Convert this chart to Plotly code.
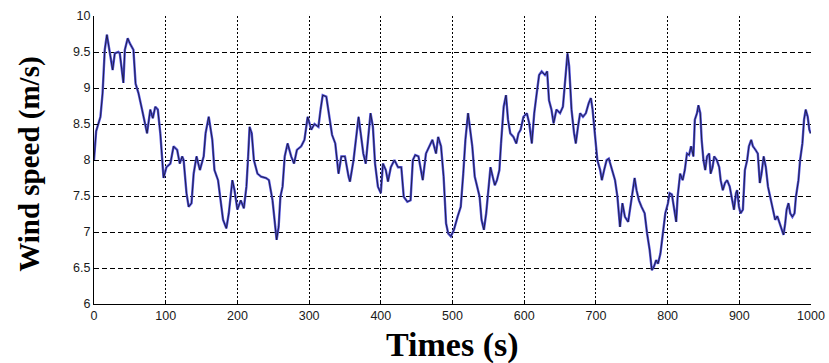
import plotly.graph_objects as go

# Wind speed record over a 1000 s window
time_s = [
    0, 3, 6, 9, 12, 13.5, 15, 18, 21, 23, 26, 29, 34, 36, 39, 41, 43, 47, 50, 55,
    58, 62, 67, 71.5, 74, 78.5, 82, 85.5, 89, 92.5, 95, 97, 101, 106.5, 111, 116,
    119.6, 123, 125, 129, 132, 136, 139, 143, 147.7, 153, 155.6, 160, 165, 168,
    173, 177, 180, 184.6, 188, 193, 196, 200, 204.7, 209, 212.6, 215, 217, 220,
    223, 228, 233, 240, 244, 249, 253, 254.7, 257.5, 260, 263, 266, 270, 275, 279,
    283, 289, 293.5, 298, 303, 307.5, 313, 316, 319, 324, 327,
    332, 336.5, 341, 345, 350, 355, 357, 362, 369, 372, 375.6, 379, 382.5, 385.7,
    389, 392, 396, 400, 403, 407, 410, 414, 419, 424, 428.6, 432, 437, 441.5,
    444.7, 448, 452.5, 455, 458.5, 463, 468, 472, 477, 480, 484, 487.6, 491, 494,
    497.7, 502, 507, 511.5, 515, 518, 521.7, 524, 527.6, 531, 534.5, 537.8, 540.5,
    543.8, 547, 549.8, 553, 556, 559, 562, 565.4, 567.7, 571.4, 574.6, 577.4,
    580.6, 585, 589, 592, 595, 599, 603.7, 607, 610.6, 614, 617.5, 620.8, 624.4,
    629, 632, 634.6, 638, 641, 645, 650, 654, 657.6, 660.4, 662.7, 666, 669.6,
    672, 675, 678,
    682, 686, 690, 693, 695.4, 699, 702, 706, 708.3, 711.5, 715, 718, 722, 726.7,
    730, 733.6, 737, 740.5, 745, 748, 752, 754, 756.7, 760, 763.6, 768, 771.4,
    775, 778, 781, 784, 786.6, 790, 793.5, 796.8, 800.5, 802.8, 806, 808.7, 812,
    814, 817.5, 821, 824, 827, 830, 832.7, 836, 838, 841, 843, 845.6, 847.5, 850,
    852.5, 855, 858, 860, 862.7, 865, 868.6, 872, 874, 877, 880, 883, 886.6, 890,
    892.6, 895.4, 897, 899.5, 901.8, 905, 907.8, 911, 913.4, 916.6, 919, 922.6,
    925.8, 928.6, 931, 934, 937, 940, 943, 947, 950, 953, 956, 959, 961.7, 964,
    966, 968.6, 971, 974, 977, 979, 982.5, 984.8, 988, 990.3, 992.6, 995.4,
    997.7, 999.5,
]

wind_speed = [
    8.0, 8.4, 8.5, 8.6, 8.93, 9.2, 9.53, 9.74, 9.57, 9.44, 9.25, 9.48, 9.5, 9.48,
    9.25, 9.07, 9.53, 9.69, 9.62, 9.53, 9.06, 8.93, 8.7, 8.46, 8.37, 8.7, 8.58,
    8.74, 8.7, 8.37, 7.95, 7.75, 7.9, 7.95, 8.19, 8.14, 7.95, 8.05, 8.0, 7.54,
    7.35, 7.4, 7.81, 8.05, 7.86, 8.05, 8.37, 8.6, 8.28, 7.86, 7.72, 7.44, 7.17,
    7.05, 7.26, 7.72, 7.58, 7.31, 7.44, 7.33, 7.63, 8.05, 8.46, 8.37, 8.0, 7.81,
    7.77, 7.75, 7.72, 7.44, 7.03, 6.89, 7.07, 7.49, 7.63, 8.05, 8.23, 8.05, 7.95,
    8.14, 8.19, 8.28, 8.6, 8.42, 8.5, 8.46, 8.7, 8.9, 8.88, 8.7,
    8.35, 8.23, 7.81, 8.05, 8.05, 7.77, 7.7, 8.0, 8.6, 8.37, 8.09, 7.95, 8.37,
    8.65, 8.46, 7.95, 7.63, 7.54, 7.95, 7.86, 7.7, 7.9, 8.0, 7.9, 7.9, 7.49, 7.42,
    7.44, 8.0, 8.07, 8.05, 7.9, 7.72, 8.09, 8.19, 8.28, 8.09, 8.32, 8.19, 7.77,
    7.12, 6.98, 6.94, 7.03, 7.21, 7.35, 7.81, 8.28, 8.65, 8.46, 8.19, 7.77, 7.63,
    7.49, 7.17, 7.03, 7.26, 7.54, 7.9, 7.77, 7.65, 7.72, 7.86, 8.23, 8.74, 8.9,
    8.56, 8.37, 8.32, 8.23, 8.37, 8.42, 8.6, 8.65, 8.51, 8.23, 8.65, 8.93, 9.18,
    9.23, 9.18, 9.23, 8.83, 8.7, 8.51, 8.7, 8.65, 8.74, 9.2, 9.48, 9.3, 8.7, 8.37,
    8.23, 8.46, 8.65,
    8.6, 8.65, 8.79, 8.86, 8.7, 8.32, 8.0, 7.86, 7.72, 7.86, 8.0, 8.02, 7.88,
    7.72, 7.49, 7.07, 7.4, 7.21, 7.14, 7.35, 7.63, 7.75, 7.58, 7.44, 7.35, 7.26,
    6.98, 6.75, 6.47, 6.52, 6.61, 6.56, 6.7, 6.98, 7.26, 7.4, 7.54, 7.52, 7.35,
    7.14, 7.49, 7.81, 7.72, 7.86, 8.09, 8.07, 8.19, 8.05, 8.56, 8.65, 8.76, 8.65,
    8.28, 8.0, 7.86, 8.05, 8.09, 7.81, 7.9, 8.05, 8.0, 7.9, 7.72, 7.58, 7.68,
    7.72, 7.63, 7.44, 7.31, 7.54, 7.58, 7.35, 7.26, 7.31, 7.86, 8.0, 8.19, 8.28,
    8.19, 8.14, 8.09, 7.68, 7.81, 8.05, 7.9, 7.63, 7.49, 7.35, 7.17, 7.22, 7.12,
    7.03, 6.96, 7.12, 7.31, 7.4, 7.26, 7.21, 7.26, 7.49, 7.72, 8.0, 8.23, 8.56,
    8.7, 8.6, 8.42, 8.37,
]

x_ticks = list(range(0, 1001, 100))
y_ticks = [6, 6.5, 7, 7.5, 8, 8.5, 9, 9.5, 10]
y_tick_text = ["6", "6.5", "7", "7.5", "8", "8.5", "9", "9.5", "10"]

fig = go.Figure()

# blue body of the trace
fig.add_trace(go.Scatter(
    x=time_s, y=wind_speed, mode="lines",
    line=dict(color="rgb(84,84,222)", width=2.4),
    hoverinfo="skip", showlegend=False,
))
# dark core line on top
fig.add_trace(go.Scatter(
    x=time_s, y=wind_speed, mode="lines",
    line=dict(color="rgb(25,25,60)", width=0.9),
    showlegend=False,
))

tick_font = dict(family="Liberation Sans, Arial, sans-serif", size=12.5, color="#1a1a1a")
title_font_family = "Liberation Serif, Times New Roman, serif"

fig.update_layout(
    width=829, height=363,
    margin=dict(l=94, r=18, t=16, b=59, autoexpand=False),
    paper_bgcolor="white", plot_bgcolor="white",
    xaxis=dict(
        range=[0, 1000], tickvals=x_ticks, automargin=False,
        showgrid=True, gridcolor="black", gridwidth=1, griddash="2px,2px",
        showline=True, linecolor="black", linewidth=1,
        ticks="inside", ticklen=4, tickcolor="black",
        zeroline=False, tickfont=tick_font,
    ),
    yaxis=dict(
        range=[6, 10], tickvals=y_ticks, ticktext=y_tick_text, automargin=False,
        showgrid=True, gridcolor="black", gridwidth=1, griddash="5px,3px",
        showline=True, linecolor="black", linewidth=1,
        ticks="inside", ticklen=4, tickcolor="black",
        zeroline=False, tickfont=tick_font,
    ),
    annotations=[
        dict(text="<b>Times (s)</b>", xref="paper", yref="paper",
             x=0.5, y=-0.142, xanchor="center", yanchor="middle", showarrow=False,
             font=dict(family=title_font_family, size=34, color="black")),
        dict(text="<b>Wind speed (m/s)</b>", xref="paper", yref="paper",
             x=-0.091, y=0.486, xanchor="center", yanchor="middle", showarrow=False,
             textangle=-90,
             font=dict(family=title_font_family, size=29, color="black")),
    ],
)

fig.write_html("out.html")
